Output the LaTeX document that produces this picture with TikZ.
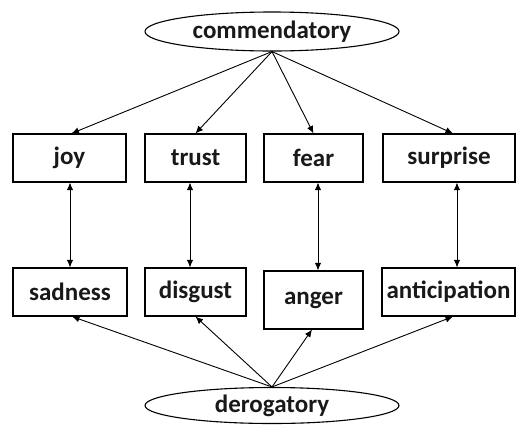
\documentclass[tikz,border=0pt]{standalone}
\usepackage{fontspec}
\setmainfont{Carlito}
\usetikzlibrary{shapes.geometric,arrows.meta}
\begin{document}
\begin{tikzpicture}[x=1pt,y=-1pt,
  lbl/.style={font=\fontsize{25}{29}\selectfont\bfseries, text=black!90},
  oval/.style={lbl, draw, ellipse, line width=1.1pt, inner sep=0pt, minimum width=254pt, minimum height=39pt},
  emo/.style={lbl, draw, rectangle, line width=1.1pt, inner sep=0pt, minimum height=48pt},
  arr/.style={line width=0.9pt, -{Latex[length=7.5pt,width=6.5pt]}},
  dbl/.style={line width=0.9pt, {Latex[length=7.5pt,width=6.5pt]}-{Latex[length=7.5pt,width=6.5pt]}}]
\useasboundingbox (0,0) rectangle (517,424);
\node[oval] (com) at (272,31.5) {commendatory};
\node[oval, minimum height=36pt] (der) at (272,405.5) {derogatory};
\node[emo, minimum width=113pt] (joy) at (69.5,158) {joy};
\node[emo, minimum width=101pt] (trust) at (195.5,158) {trust};
\node[emo, minimum width=99pt] (fear) at (313.5,158) {fear};
\node[emo, minimum width=132pt] (surprise) at (449,158) {surprise};
\node[emo, minimum width=114pt] (sadness) at (70,292) {sadness};
\node[emo, minimum width=101pt] (disgust) at (195.5,292) {disgust};
\node[emo, minimum width=99pt, minimum height=58pt] (anger) at (313.5,300) {anger};
\node[emo, minimum width=133pt] (anticipation) at (448.5,292) {anticipation};
\draw[arr] (com.south) -- ([xshift=2pt]joy.north);
\draw[arr] (com.south) -- (trust.north);
\draw[arr] (com.south) -- (fear.north);
\draw[arr] (com.south) -- ([xshift=4pt]surprise.north);
\draw[dbl] ([xshift=0.5pt]joy.south) -- (sadness.north);
\draw[dbl] ([xshift=-5.5pt]trust.south) -- ([xshift=-5.5pt]disgust.north);
\draw[dbl] ([xshift=4.5pt]fear.south) -- ([xshift=4.5pt]anger.north);
\draw[dbl] ([xshift=8pt]surprise.south) -- ([xshift=8.5pt]anticipation.north);
\draw[arr] (der.north) -- ([xshift=2pt]sadness.south);
\draw[arr] (der.north) -- (disgust.south);
\draw[arr] (der.north) -- ([xshift=-1.5pt]anger.south);
\draw[arr] (der.north) -- ([xshift=4.5pt]anticipation.south);
\end{tikzpicture}
\end{document}
